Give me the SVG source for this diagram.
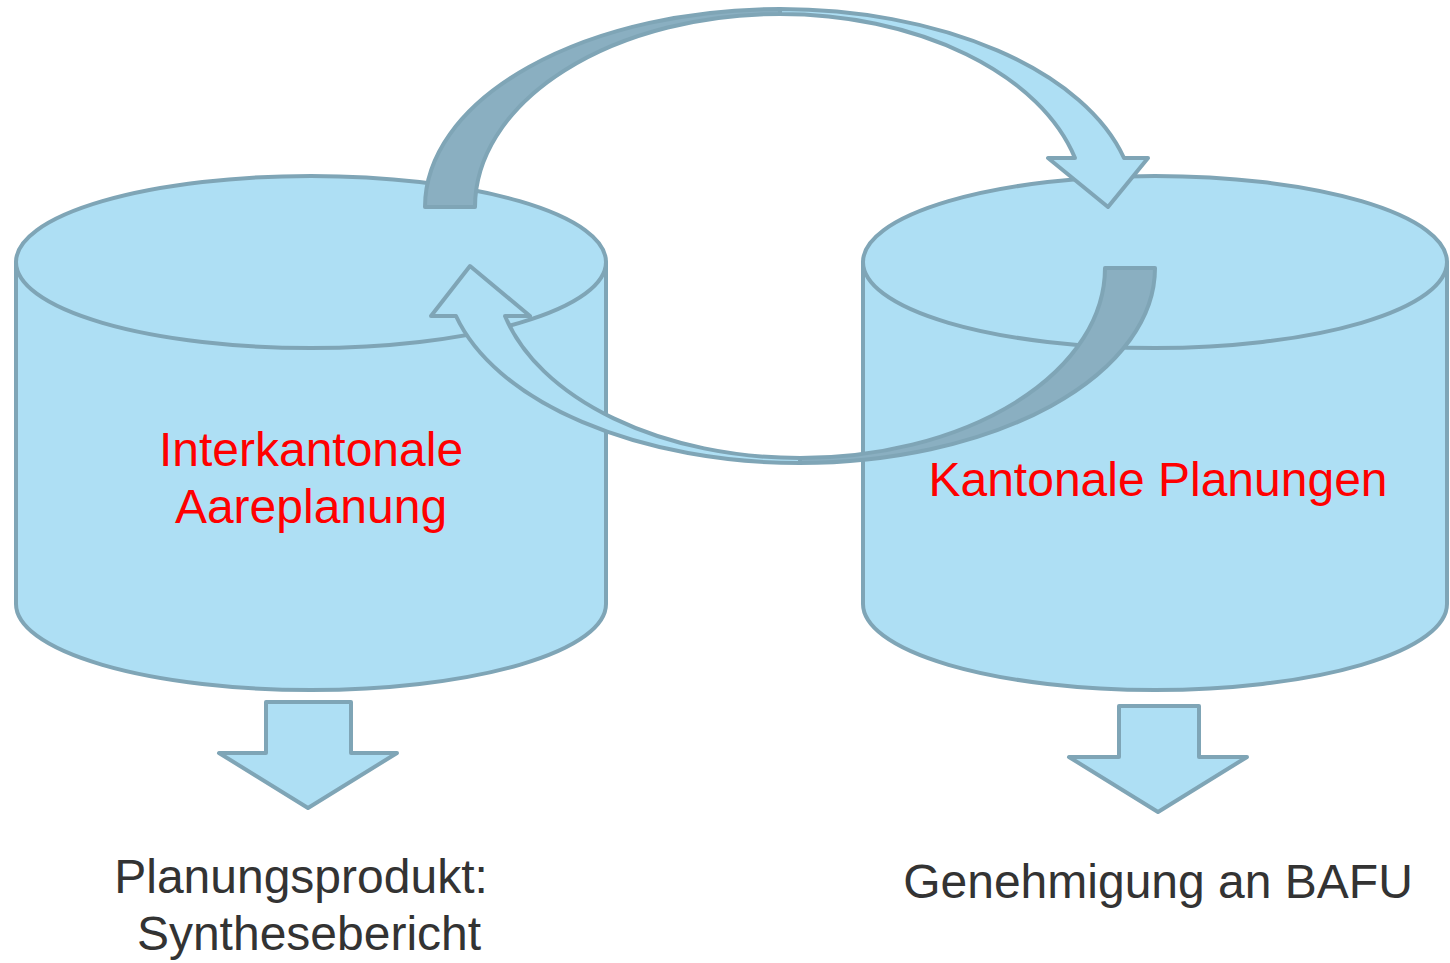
<svg xmlns="http://www.w3.org/2000/svg" width="1450" height="963" viewBox="0 0 1450 963">
<style>
.shape{fill:#AEDFF4;stroke:#7FA5B6;stroke-width:4;stroke-linejoin:round}
.dark{fill:#8AAFC1;stroke:#7FA5B6;stroke-width:4;stroke-linejoin:round}
.red{font-family:"Liberation Sans",Arial,sans-serif;font-size:48px;fill:#FF0000;text-anchor:middle}
.gray{font-family:"Liberation Sans",Arial,sans-serif;font-size:48px;fill:#333333;text-anchor:middle}
</style>
<rect width="1450" height="963" fill="#FFFFFF"/>
<g id="cyl-left">
<path class="shape" d="M16,262 L16,604 A295,86 0 0 0 606,604 L606,262 Z"/>
<ellipse class="shape" cx="311" cy="262" rx="295" ry="86"/>
</g>
<g id="cyl-right">
<path class="shape" d="M863,262 L863,604 A292,86 0 0 0 1447,604 L1447,262 Z"/>
<ellipse class="shape" cx="1155" cy="262" rx="292" ry="86"/>
</g>
<g id="connectors">
<g id="arrow-top">
<path class="dark" d="M425,207 A355,198 0 0 1 780,9 L780,14 A305,193 0 0 0 475,207 Z"/>
<path class="shape" d="M780,9 A355,198 0 0 1 1124,158 L1148,158 L1108,207 L1048,158 L1075,158 A305,193 0 0 0 780,14 Z"/>
</g>
<g id="arrow-bottom">
<path class="dark" d="M1155,268 A355,195 0 0 1 800,463 L800,458 A305,190 0 0 0 1105,268 Z"/>
<path class="shape" d="M800,463 A355,195 0 0 1 456,316 L431,316 L470,266 L530,316 L505,316 A305,190 0 0 0 800,458 Z"/>
</g>
<path id="down-left" class="shape" d="M266,702 L351,702 L351,753 L397,753 L308,808 L219,753 L266,753 Z"/>
<path id="down-right" class="shape" d="M1119,706 L1199,706 L1199,757 L1247,757 L1158,812 L1069,757 L1119,757 Z"/>
</g>
<g id="label-left">
<text class="red" x="311" y="466">Interkantonale</text>
<text class="red" x="311" y="523">Aareplanung</text>
</g>
<g id="label-right">
<text class="red" x="1158" y="496">Kantonale Planungen</text>
</g>
<g id="out-left">
<text class="gray" x="301" y="893">Planungsprodukt:</text>
<text class="gray" x="309" y="950">Synthesebericht</text>
</g>
<g id="out-right">
<text class="gray" x="1158" y="898">Genehmigung an BAFU</text>
</g>
</svg>
